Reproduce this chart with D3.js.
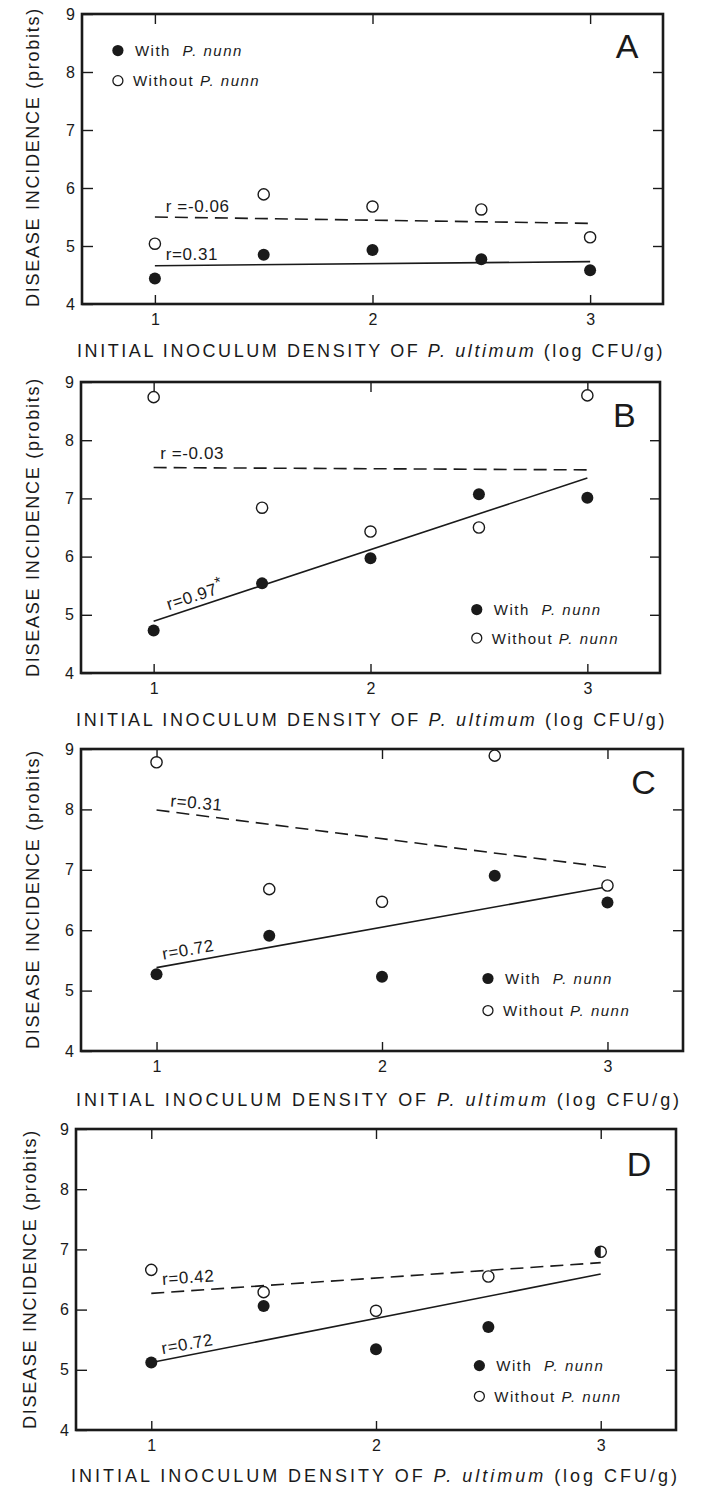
<!DOCTYPE html>
<html>
<head>
<meta charset="utf-8">
<script src="https://cdn.jsdelivr.net/npm/d3@7"></script>
<style>
  body { margin: 0; background: #fff; }
  text { font-family: "Liberation Sans", "DejaVu Sans", sans-serif; fill: #1a1a1a; }
</style>
</head>
<body>
<svg id="chart" width="701" height="1488"></svg>
<script>
// x levels (log CFU/g) and axis ticks
const xLevels = [1, 1.5, 2, 2.5, 3];
const xTicks = [1, 2, 3];
const yTicks = [4, 5, 6, 7, 8, 9];

// disease incidence (probits)
const withA = [4.44, 4.85, 4.93, 4.77, 4.58];
const withoutA = [5.04, 5.89, 5.68, 5.63, 5.15];
const withB = [4.73, 5.54, 5.97, 7.07, 7.01];
const withoutB = [8.74, 6.84, 6.43, 6.50, 8.77];
const withC = [5.27, 5.91, 5.23, 6.90, 6.46];
const withoutC = [8.78, 6.68, 6.47, 8.89, 6.74];
const withD = [5.12, 6.06, 5.34, 5.71, 6.96];
const withoutD = [6.66, 6.29, 5.98, 6.55, 6.96];

// regression lines, value at x = 1 and x = 3
const fitWithA = [4.66, 4.73];
const fitWithoutA = [5.50, 5.39];
const fitWithB = [4.89, 7.35];
const fitWithoutB = [7.53, 7.49];
const fitWithC = [5.38, 6.72];
const fitWithoutC = [7.99, 7.04];
const fitWithD = [5.12, 6.59];
const fitWithoutD = [6.27, 6.78];

// correlation labels
const rWith = ["r=0.31", "r=0.97", "r=0.72", "r=0.72"];
const rWithout = ["r =-0.06", "r =-0.03", "r=0.31", "r=0.42"];
const panelNames = ["A", "B", "C", "D"];

// layout of each panel (pixel box, label spots in data units)
const panels = [
  { box: [82, 14, 663, 304], w: withA, wo: withoutA, fw: fitWithA, fwo: fitWithoutA,
    rwPos: [1.05, 4.76, 0], rwoPos: [1.05, 5.59, 0], legend: [0.83, 8.37, 7.85],
    letter: [3.17, 8.45], xTitle: [77, 665, 357], yTitle: [33, 157] },
  { box: [81, 382, 660, 673], w: withB, wo: withoutB, fw: fitWithB, fwo: fitWithoutB,
    rwPos: [1.07, 5.08, -18], rwoPos: [1.03, 7.68, 0], legend: [2.49, 5.09, 4.60],
    letter: [3.17, 8.43], xTitle: [76, 667, 726], yTitle: [33, 527], star: true },
  { box: [81, 749, 683, 1051], w: withC, wo: withoutC, fw: fitWithC, fwo: fitWithoutC,
    rwPos: [1.03, 5.51, -10], rwoPos: [1.06, 8.05, 5], legend: [2.47, 5.20, 4.67],
    letter: [3.16, 8.45], xTitle: [76, 682, 1106], yTitle: [33, 899] },
  { box: [76, 1129, 676, 1430], w: withD, wo: withoutD, fw: fitWithD, fwo: fitWithoutD,
    rwPos: [1.05, 5.26, -10], rwoPos: [1.05, 6.41, -4], legend: [2.46, 5.07, 4.56],
    letter: [3.17, 8.42], xTitle: [71, 680, 1482], yTitle: [30, 1279] }
];

const svg = d3.select("#chart");

// stretch a text element to a given width through letter-spacing
function fitWidth(sel, target) {
  const node = sel.node();
  const n = node.getNumberOfChars();
  const natural = node.getComputedTextLength();
  sel.attr("letter-spacing", (target - natural) / n);
}

panels.forEach((p, pi) => {
  const [x0, y0, x1, y1] = p.box;
  const x = d3.scaleLinear().domain([0.665, 3.335]).range([x0, x1]);
  const y = d3.scaleLinear().domain([4, 9]).range([y1, y0]);
  const g = svg.append("g");

  // inward ticks on all four sides
  const left = g.append("g").attr("transform", `translate(${x0},0)`)
    .call(d3.axisLeft(y).tickValues(yTicks).tickSize(-11).tickPadding(7).tickFormat(d3.format("d")));
  const right = g.append("g").attr("transform", `translate(${x1},0)`)
    .call(d3.axisRight(y).tickValues([5, 6, 7, 8]).tickSize(-10).tickFormat(""));
  const bottom = g.append("g").attr("transform", `translate(0,${y1})`)
    .call(d3.axisBottom(x).tickValues(xTicks).tickSize(-9).tickPadding(10).tickFormat(d3.format("d")));
  const top = g.append("g").attr("transform", `translate(0,${y0})`)
    .call(d3.axisTop(x).tickValues(xTicks).tickSize(-10).tickFormat(""));
  [left, right, bottom, top].forEach(a => {
    a.select(".domain").remove();
    a.selectAll("line").attr("stroke", "#1a1a1a").attr("stroke-width", 1.4);
    a.selectAll("text").attr("font-size", 16).attr("fill", "#1a1a1a");
  });

  // frame
  g.append("rect")
    .attr("x", x0).attr("y", y0).attr("width", x1 - x0).attr("height", y1 - y0)
    .attr("fill", "none").attr("stroke", "#1a1a1a").attr("stroke-width", 2.6);

  // regression lines
  const line = d3.line().x(d => x(d[0])).y(d => y(d[1]));
  g.append("path").datum([[1, p.fwo[0]], [3, p.fwo[1]]])
    .attr("d", line).attr("fill", "none").attr("stroke", "#1a1a1a")
    .attr("stroke-width", 1.6).attr("stroke-dasharray", "13,7");
  g.append("path").datum([[1, p.fw[0]], [3, p.fw[1]]])
    .attr("d", line).attr("fill", "none").attr("stroke", "#1a1a1a").attr("stroke-width", 1.6);

  // points
  const pts = xLevels.map((xv, i) => ({ x: xv, w: p.w[i], wo: p.wo[i] }));
  g.selectAll(".open").data(pts).join("circle")
    .attr("cx", d => x(d.x)).attr("cy", d => y(d.wo)).attr("r", 5.6)
    .attr("fill", "#fff").attr("stroke", "#1a1a1a").attr("stroke-width", 1.4);
  pts.forEach(d => {
    const cx = x(d.x), cy = y(d.w), r = 6;
    if (Math.abs(d.w - d.wo) < 0.02) {
      // both treatments fall on the same spot: half-filled marker
      g.append("path")
        .attr("d", `M${cx},${cy - 5.6} A5.6,5.6 0 0 0 ${cx},${cy + 5.6} Z`)
        .attr("fill", "#1a1a1a");
    } else {
      g.append("circle").attr("cx", cx).attr("cy", cy).attr("r", r).attr("fill", "#1a1a1a");
    }
  });

  // r labels
  const rl = (pos, txt, star) => {
    const t = g.append("text")
      .attr("transform", `translate(${x(pos[0])},${y(pos[1])}) rotate(${pos[2]})`)
      .attr("font-size", 17).attr("letter-spacing", 0.6).text(txt);
    if (star) t.append("tspan").attr("dy", -6).attr("font-size", 16).text("*");
  };
  rl(p.rwoPos, rWithout[pi], false);
  rl(p.rwPos, rWith[pi], p.star);

  // legend
  const lx = x(p.legend[0]);
  g.append("circle").attr("cx", lx).attr("cy", y(p.legend[1])).attr("r", 5.6).attr("fill", "#1a1a1a");
  g.append("circle").attr("cx", lx).attr("cy", y(p.legend[2])).attr("r", 5).attr("fill", "#fff")
    .attr("stroke", "#1a1a1a").attr("stroke-width", 1.3);
  const t1 = g.append("text").attr("x", lx + 17).attr("y", y(p.legend[1]) + 5.5)
    .attr("font-size", 15).attr("letter-spacing", 1.5);
  t1.append("tspan").text("With ");
  t1.append("tspan").attr("dx", 6).attr("font-style", "italic").text("P. nunn");
  const t2 = g.append("text").attr("x", lx + 15).attr("y", y(p.legend[2]) + 5.5)
    .attr("font-size", 15).attr("letter-spacing", 1.5);
  t2.append("tspan").text("Without ");
  t2.append("tspan").attr("font-style", "italic").text("P. nunn");

  // panel letter
  g.append("text").attr("x", x(p.letter[0])).attr("y", y(p.letter[1]))
    .attr("text-anchor", "middle").attr("dominant-baseline", "central")
    .attr("font-size", 34).text(panelNames[pi]);

  // axis titles
  const xt = g.append("text").attr("x", p.xTitle[0]).attr("y", p.xTitle[2]).attr("font-size", 18);
  xt.append("tspan").text("INITIAL INOCULUM DENSITY OF ");
  xt.append("tspan").attr("font-style", "italic").text("P. ultimum");
  xt.append("tspan").text(" (log CFU/g)");
  fitWidth(xt, p.xTitle[1] - p.xTitle[0]);

  const yt = g.append("text")
    .attr("transform", `translate(${p.yTitle[0]},${p.yTitle[1]}) rotate(-90)`)
    .attr("text-anchor", "middle").attr("dominant-baseline", "central")
    .attr("font-size", 18).text("DISEASE INCIDENCE (probits)");
  fitWidth(yt, 300);
});
</script>
</body>
</html>
